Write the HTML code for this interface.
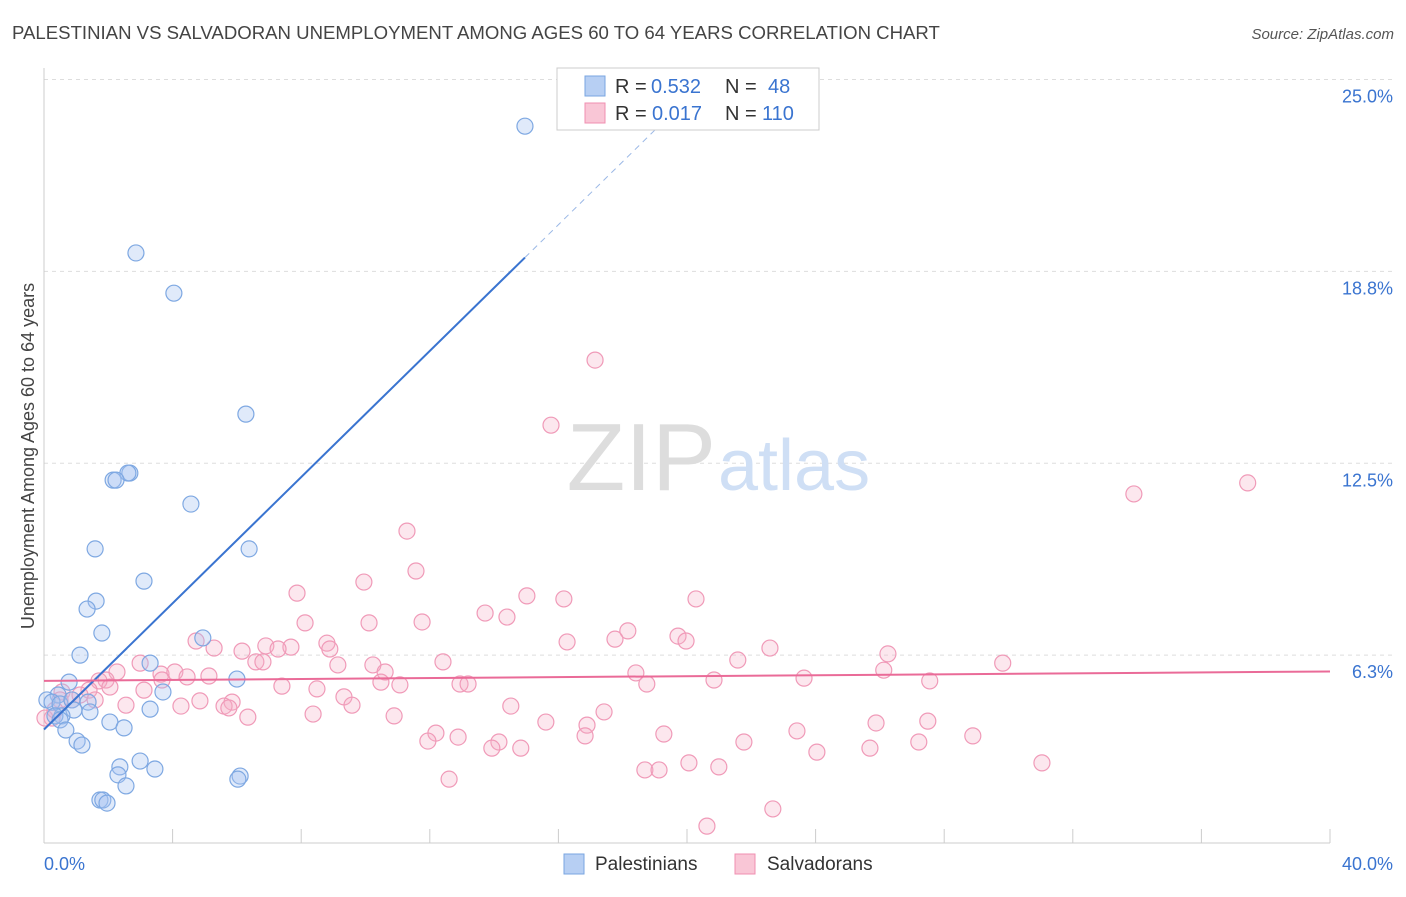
<!DOCTYPE html>
<html><head><meta charset="utf-8">
<style>
body{margin:0;background:#fff;font-family:"Liberation Sans",sans-serif;}
svg text{font-family:"Liberation Sans",sans-serif;}
</style></head>
<body>
<svg width="1406" height="892" viewBox="0 0 1406 892">
<text x="12" y="39" font-size="18.6" fill="#444">PALESTINIAN VS SALVADORAN UNEMPLOYMENT AMONG AGES 60 TO 64 YEARS CORRELATION CHART</text>
<text x="1394" y="39" font-size="15" fill="#555" font-style="italic" text-anchor="end">Source: ZipAtlas.com</text>
<g id="grid"></g>
<text x="716" y="490" font-size="96" fill="#ddd" text-anchor="end" font-family="Liberation Serif">ZIP</text>
<text x="718" y="490" font-size="72" fill="#cfdff5">atlas</text>
<text transform="translate(34,456) rotate(-90)" font-size="18" fill="#444" text-anchor="middle">Unemployment Among Ages 60 to 64 years</text>
<g id="marks"></g>
<g>
<rect x="557" y="68" width="262" height="62" fill="#fff" stroke="#ccc"/>
<rect x="585" y="76" width="20" height="20" fill="#b7cff3" stroke="#7aa6e0"/>
<text x="615" y="93" font-size="20" fill="#333">R =</text>
<text x="651" y="93" font-size="20" fill="#3a74d0">0.532</text>
<text x="725" y="93" font-size="20" fill="#333">N =</text>
<text x="768" y="93" font-size="20" fill="#3a74d0">48</text>
<rect x="585" y="103" width="20" height="20" fill="#f9c6d6" stroke="#f08fb0"/>
<text x="615" y="120" font-size="20" fill="#333">R =</text>
<text x="652" y="120" font-size="20" fill="#3a74d0">0.017</text>
<text x="725" y="120" font-size="20" fill="#333">N =</text>
<text x="762" y="120" font-size="20" fill="#3a74d0">110</text>
</g>
<g>
<rect x="564" y="854" width="20" height="20" fill="#b7cff3" stroke="#7aa6e0"/>
<text x="595" y="870" font-size="19" fill="#333">Palestinians</text>
<rect x="735" y="854" width="20" height="20" fill="#f9c6d6" stroke="#f08fb0"/>
<text x="767" y="870" font-size="19" fill="#333">Salvadorans</text>
</g>
</svg>
<script>
const xTicks=[0,40];
const yTicks=[6.25,12.5,18.75,25];
const yTickLabels=["6.3%","12.5%","18.8%","25.0%"];
const blueX=[14.96,2.86,4.04,6.28,2.67,2.61,2.15,2.24,4.57,6.38,1.59,3.11,1.62,1.34,1.80,4.94,1.12,3.30,0.78,6.00,3.70,0.44,0.09,0.25,0.50,1.37,0.87,3.30,1.43,0.93,0.56,0.34,0.50,2.05,2.49,0.68,1.03,1.18,2.99,2.36,3.45,2.30,6.10,6.03,2.55,1.74,1.83,1.96];
const blueY=[23.48,19.35,18.04,14.10,12.18,12.18,11.95,11.95,11.17,9.71,9.71,8.66,8.01,7.75,6.97,6.81,6.25,5.99,5.37,5.47,5.05,4.95,4.79,4.72,4.66,4.72,4.79,4.49,4.40,4.46,4.27,4.27,4.14,4.07,3.88,3.81,3.45,3.32,2.80,2.61,2.54,2.35,2.31,2.21,1.99,1.53,1.53,1.43];
const pinkX=[17.14,15.77,33.9,37.44,11.29,11.57,9.95,7.87,15.02,16.17,20.28,13.72,14.4,8.12,10.11,11.76,18.16,17.76,19.72,19.97,16.27,4.73,5.29,6.9,7.68,8.8,7.28,8.89,6.16,22.58,26.25,6.59,6.81,9.14,10.23,12.41,21.58,29.82,2.99,2.27,3.64,4.07,4.45,5.13,10.61,26.12,18.41,3.67,1.93,1.71,23.64,20.84,10.48,12.94,13.19,11.07,7.4,18.75,27.55,2.05,8.49,3.11,1.4,0.56,9.33,5.85,4.85,9.58,4.26,2.55,5.6,5.75,14.52,17.42,8.37,6.34,10.89,0.25,15.61,16.89,25.88,27.49,23.42,12.19,16.83,12.88,19.28,28.89,11.94,21.77,27.21,14.15,13.93,14.83,25.69,24.04,20.06,31.04,20.99,18.69,19.13,12.6,22.67,20.62,0.03,0.5,0.87,1.59,1.12,0.34];
const pinkY=[15.86,13.74,11.5,11.86,10.29,8.99,8.63,8.27,8.18,8.08,8.08,7.62,7.49,7.3,7.3,7.33,7.04,6.77,6.87,6.71,6.68,6.71,6.48,6.55,6.51,6.64,6.45,6.45,6.38,6.48,6.29,6.03,6.03,5.93,5.93,6.03,6.09,5.99,5.99,5.7,5.63,5.7,5.54,5.57,5.7,5.76,5.67,5.44,5.44,5.41,5.5,5.44,5.37,5.31,5.31,5.28,5.24,5.31,5.41,5.21,5.15,5.11,5.11,5.05,4.89,4.72,4.76,4.62,4.59,4.62,4.59,4.53,4.59,4.4,4.33,4.23,4.27,4.2,4.07,3.97,4.04,4.1,3.78,3.71,3.62,3.58,3.68,3.62,3.45,3.42,3.42,3.42,3.22,3.22,3.22,3.09,2.74,2.74,2.61,2.51,2.51,2.21,1.24,0.68,4.2,4.79,4.79,4.79,4.95,4.46];

const NS='http://www.w3.org/2000/svg';
const X0=44,X1=1330,Y0=847,PX_PER=30.7;
function sx(v){return X0+(v-0)/(40-0)*(X1-X0);}
function sy(v){return Y0-v*PX_PER;}
function mk(tag,attrs,parent){const e=document.createElementNS(NS,tag);for(const k in attrs)e.setAttribute(k,attrs[k]);parent.appendChild(e);return e;}
const gridG=document.getElementById('grid');
const marksG=document.getElementById('marks');

yTicks.forEach((t,i)=>{
  const l=mk('line',{x1:X0,x2:1393,y1:sy(t),y2:sy(t),stroke:'#ddd','stroke-dasharray':'4,4'},gridG);
  
  
  const tx=mk('text',{x:1393,y:sy(t)+23,'font-size':18,fill:'#3a74d0','text-anchor':'end'},gridG);
  tx.textContent=yTickLabels[i];
  
  
});
const ya=mk('line',{x1:X0,x2:X0,y1:68,y2:843,stroke:'#ccc'},gridG);


const xa=mk('line',{x1:X0,x2:X1,y1:843,y2:843,stroke:'#ccc'},gridG);


for(let i=0;i<=10;i++){
  const v=i*4;
  const tk=mk('line',{x1:sx(v),x2:sx(v),y1:829,y2:843,stroke:'#ccc'},gridG);
  
  
}
xTicks.forEach((t,i)=>{
  const tx=mk('text',{x:i===0?44:1393,y:870,'font-size':18,fill:'#3a74d0','text-anchor':i===0?'start':'end'},gridG);
  tx.textContent=t.toFixed(1)+'%';
  
  
});

function fit(xs,ys){const n=xs.length;let mx=0,my=0;for(let i=0;i<n;i++){mx+=xs[i];my+=ys[i];}mx/=n;my/=n;let sxy=0,sxx=0;for(let i=0;i<n;i++){sxy+=(xs[i]-mx)*(ys[i]-my);sxx+=(xs[i]-mx)**2;}const b=sxy/sxx;return{a:my-b*mx,b:b};}

function pts(xs,ys,fill,stroke,name){
  xs.forEach((x,i)=>{
    const c=mk('circle',{cx:sx(x),cy:sy(ys[i]),r:8,fill:fill,stroke:stroke,'stroke-width':1.2},marksG);
    
    
  });
}
pts(pinkX,pinkY,'rgba(246,175,200,0.3)','#f09ab8','salvadoran-point');
pts(blueX,blueY,'rgba(165,195,240,0.35)','#7ea8e2','palestinian-point');

const bf=fit(blueX,blueY);
const bmax=Math.max(...blueX);
const bl=mk('line',{x1:sx(0),y1:sy(bf.a),x2:sx(bmax),y2:sy(bf.a+bf.b*bmax),stroke:'#3a74d0','stroke-width':2},marksG);


const xEnd=(23.5-bf.a)/bf.b;
const bd=mk('line',{x1:sx(bmax),y1:sy(bf.a+bf.b*bmax),x2:sx(xEnd),y2:sy(23.5),stroke:'#9bb8e6','stroke-width':1,'stroke-dasharray':'6,5'},marksG);


const pf=fit(pinkX,pinkY);
const pl=mk('line',{x1:sx(0),y1:sy(pf.a),x2:sx(40),y2:sy(pf.a+pf.b*40),stroke:'#ea6b98','stroke-width':2},marksG);


</script>
</body></html>
